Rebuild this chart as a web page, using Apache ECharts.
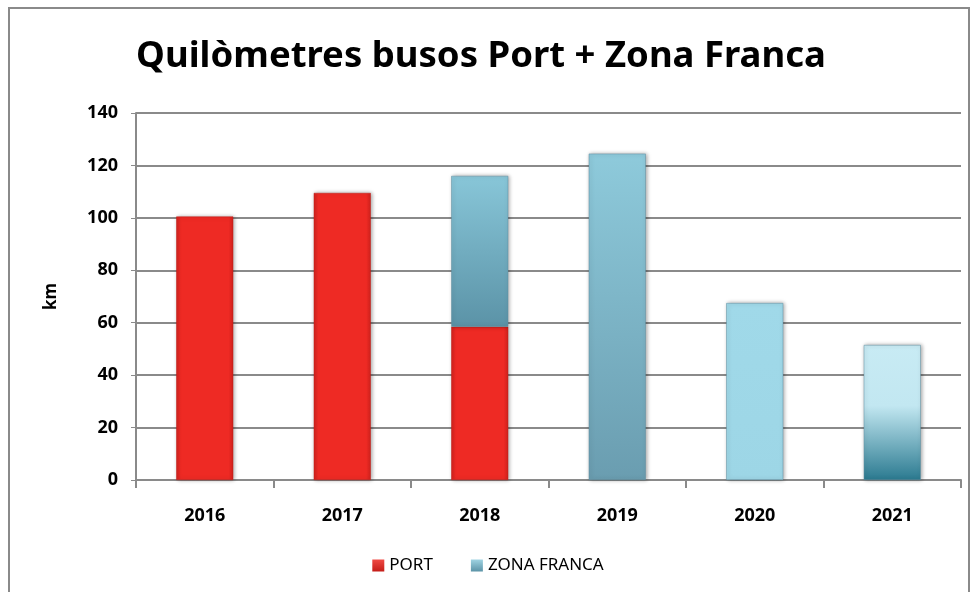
<!DOCTYPE html>
<html>
<head>
<meta charset="utf-8">
<script src="https://cdn.jsdelivr.net/npm/echarts@6/dist/echarts.min.js"></script>
<style>
  html, body { margin: 0; padding: 0; background: #fff; }
  #frame { position: absolute; left: 8px; top: 7px; width: 962px; height: 600px; border: 2px solid #8a8a8a; box-sizing: border-box; }
  #chart { position: absolute; left: 0; top: 0; width: 976px; height: 592px; }
</style>
</head>
<body>
<div id="frame"></div>
<div id="chart"></div>
<script>
var years = ['2016', '2017', '2018', '2019', '2020', '2021'];
var portKm = [100.5, 109.5, 58.5, null, null, null];
var zonaFrancaKm = [null, null, 57.5, 124.5, 67.5, 51.5];
var yTicks = [0, 20, 40, 60, 80, 100, 120, 140];

(function () {
    function vGrad(top, bottom) {
        return new echarts.graphic.LinearGradient(0, 0, 0, 1, [
            { offset: 0, color: top },
            { offset: 1, color: bottom }
        ]);
    }
    function hGrad(edge, mid) {
        return new echarts.graphic.LinearGradient(0, 0, 1, 0, [
            { offset: 0, color: edge },
            { offset: 0.08, color: mid },
            { offset: 0.92, color: mid },
            { offset: 1, color: edge }
        ]);
    }

    var red = hGrad('#d2221d', '#ee2a24');
    // each year of the blue series has its own look in the reference
    var blueStyles = [
        null,
        null,
        vGrad('#88c6d8', '#5b93a7'),
        vGrad('#8ecadb', '#6a9db0'),
        vGrad('#a0d9e9', '#9dd6e6'),
        new echarts.graphic.LinearGradient(0, 0, 0, 1, [
            { offset: 0, color: '#c8ebf4' },
            { offset: 0.45, color: '#c2e7f1' },
            { offset: 1, color: '#2b7a90' }
        ])
    ];

    var shadow = { shadowColor: 'rgba(0,0,0,0.35)', shadowBlur: 4, shadowOffsetX: 1, shadowOffsetY: 0 };

    var portData = portKm.map(function (v) {
        return { value: v, itemStyle: Object.assign({ color: red, borderColor: '#c01c17', borderWidth: 0.5 }, shadow) };
    });
    var zfData = zonaFrancaKm.map(function (v, i) {
        return { value: v, itemStyle: Object.assign({ color: blueStyles[i] || '#8ecadb', borderColor: '#5e8fa0', borderWidth: 0.5 }, shadow) };
    });

    var option = {
        animation: false,
        backgroundColor: 'transparent',
        textStyle: { fontFamily: 'Noto Sans' },
        title: {
            text: 'Quilòmetres busos Port + Zona Franca',
            left: 476,
            textAlign: 'center',
            top: 33,
            textStyle: { fontFamily: 'Noto Sans', fontWeight: 'bold', fontSize: 36.5, color: '#000' }
        },
        legend: {
            bottom: 13,
            left: 'center',
            itemWidth: 12,
            itemHeight: 12,
            itemGap: 38,
            icon: 'rect',
            textStyle: { fontFamily: 'Noto Sans', fontSize: 17, color: '#000' },
            data: [
                { name: 'PORT', itemStyle: { color: vGrad('#f04a44', '#c41d18') } },
                { name: 'ZONA FRANCA', itemStyle: { color: vGrad('#9fd3e2', '#5b93a7') } }
            ]
        },
        grid: { left: 136, right: 15, top: 113, bottom: 112 },
        xAxis: {
            type: 'category',
            data: years,
            axisLine: { lineStyle: { color: '#8a8a8a', width: 2 } },
            axisTick: { show: true, length: 8, lineStyle: { color: '#8a8a8a', width: 2 } },
            axisLabel: { fontFamily: 'Noto Sans', fontWeight: 'bold', fontSize: 18, color: '#000', margin: 27 }
        },
        yAxis: {
            type: 'value',
            min: yTicks[0],
            max: yTicks[yTicks.length - 1],
            interval: 20,
            name: 'km',
            nameLocation: 'middle',
            nameGap: 76,
            nameTextStyle: { fontFamily: 'Noto Sans', fontWeight: 'bold', fontSize: 17, color: '#000' },
            axisLine: { show: true, lineStyle: { color: '#8a8a8a', width: 2 } },
            axisTick: { show: true, length: 5, lineStyle: { color: '#8a8a8a', width: 1 } },
            axisLabel: { fontFamily: 'Noto Sans', fontWeight: 'bold', fontSize: 18, color: '#000', margin: 18 },
            splitLine: { lineStyle: { color: '#8a8a8a', width: 2 } }
        },
        series: [
            { name: 'PORT', type: 'bar', stack: 'km', barWidth: 57, data: portData,
              itemStyle: { color: '#ee2a24' } },
            { name: 'ZONA FRANCA', type: 'bar', stack: 'km', barWidth: 57, data: zfData,
              itemStyle: { color: '#8ecadb' } }
        ]
    };

    var chart = echarts.init(document.getElementById('chart'));
    chart.setOption(option);
})();
</script>
</body>
</html>
